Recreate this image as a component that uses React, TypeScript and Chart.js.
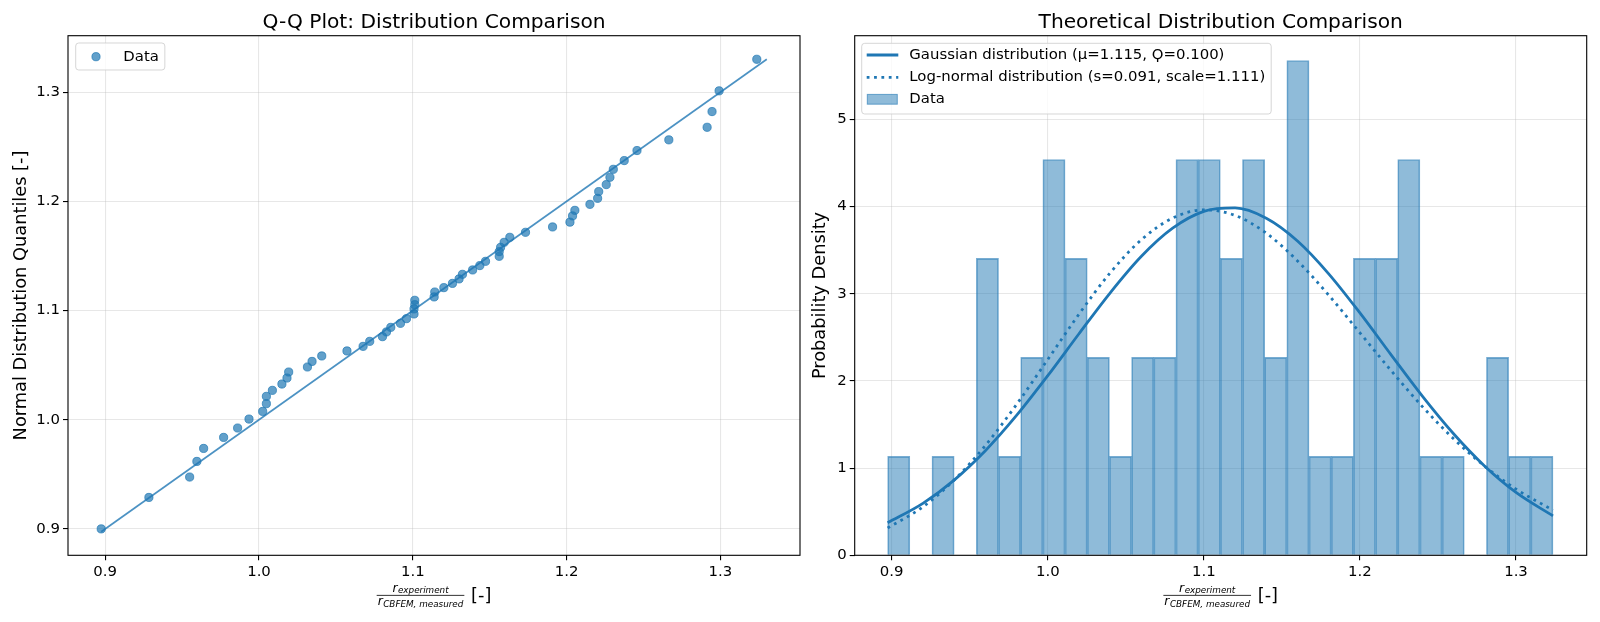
import { useEffect, useRef } from "react";
import { Chart, registerables } from "chart.js";

Chart.register(...registerables);

const FONT = "'DejaVu Sans', 'Liberation Sans', sans-serif";
const BLUE = "31, 119, 180";
const SMALL = 14.9;
const LARGE = 17.8;
const TITLE = 20.2;

// Q-Q plot: measured ratio (sorted) vs normal distribution quantiles
const qqSample = [
  0.8974, 0.9284, 0.9549, 0.9596, 0.964, 0.977, 0.9861, 0.9935, 1.0024, 1.0048,
  1.0048, 1.0087, 1.0149, 1.0182, 1.0193, 1.0315, 1.0345, 1.0408, 1.0572, 1.0677,
  1.072, 1.0803, 1.0829, 1.0857, 1.092, 1.0959, 1.1008, 1.1008, 1.1013, 1.1013,
  1.1139, 1.1143, 1.1202, 1.1258, 1.1301, 1.1323, 1.1389, 1.1436, 1.1473, 1.1562,
  1.1562, 1.1571, 1.1594, 1.1631, 1.1733, 1.1909, 1.2022, 1.2039, 1.2054, 1.2152,
  1.2202, 1.2209, 1.2258, 1.2282, 1.2304, 1.2375, 1.2458, 1.2665, 1.2914, 1.2946,
  1.2992, 1.3237,
];
const qqTheory = [
  0.9, 0.9288, 0.9475, 0.9618, 0.9737, 0.9838, 0.9924, 1.0006, 1.0076, 1.0147,
  1.0214, 1.0269, 1.0327, 1.0382, 1.0437, 1.0483, 1.0534, 1.0584, 1.063, 1.0672,
  1.0718, 1.0761, 1.0804, 1.0846, 1.0883, 1.0926, 1.0969, 1.1015, 1.1054, 1.1094,
  1.1125, 1.117, 1.121, 1.1249, 1.129, 1.1332, 1.1372, 1.1412, 1.1451, 1.1497,
  1.154, 1.1579, 1.1625, 1.1671, 1.1717, 1.1766, 1.181, 1.1867, 1.1918, 1.1973,
  1.2028, 1.209, 1.2154, 1.2221, 1.2294, 1.2374, 1.2466, 1.2564, 1.2679, 1.2823,
  1.3013, 1.3302,
];
const qqLine = [0.8974, 1.3302];
const qqRange = [0.8758, 1.3518];
const qqTicks = [0.9, 1.0, 1.1, 1.2, 1.3];

// histogram, 30 bins, density
const binStart = 0.8974;
const binWidth = 0.01421;
const binCounts = [
  1, 0, 1, 0, 3, 1, 2, 4, 3, 2, 1, 2, 2, 4, 4, 3, 4, 2, 5, 1, 1, 3, 3, 4, 1, 1, 0, 2, 1, 1,
];
const sampleSize = 62;

// fitted curves
const curveX = [
  0.8974, 0.92, 0.94, 0.96, 0.98, 1.0, 1.02, 1.04, 1.06, 1.08, 1.1,
  1.12, 1.14, 1.16, 1.18, 1.2, 1.22, 1.24, 1.26, 1.28, 1.3, 1.3237,
];
const gaussY = [
  0.374, 0.596, 0.863, 1.2, 1.604, 2.06, 2.541, 3.011, 3.43, 3.752, 3.945,
  3.984, 3.866, 3.605, 3.229, 2.78, 2.299, 1.826, 1.394, 1.022, 0.721, 0.452,
];
const lognormY = [
  0.313, 0.555, 0.863, 1.259, 1.73, 2.246, 2.766, 3.24, 3.62, 3.868, 3.962,
  3.899, 3.695, 3.377, 2.984, 2.552, 2.118, 1.706, 1.337, 1.021, 0.76, 0.517,
];
const histRange = [0.8763, 1.3453];
const densityMax = 5.96;
const densityTicks = [0, 1, 2, 3, 4, 5];

const CANVAS_W = 820;
const CANVAS_H = 622;
const PLOT_TOP = 35.7;
const PLOT_BOTTOM = 555.3;

function drawRatioLabel(ctx: CanvasRenderingContext2D, cx: number, barY: number) {
  const rFont = `italic 12.3px ${FONT}`;
  const subFont = `italic 8.8px ${FONT}`;
  const unitFont = `${LARGE}px ${FONT}`;
  ctx.font = rFont;
  const rW = ctx.measureText("r").width + 0.5;
  ctx.font = subFont;
  const numW = rW + ctx.measureText("experiment").width;
  const denW = rW + ctx.measureText("CBFEM, measured").width;
  const fracW = Math.max(numW, denW) + 2;
  ctx.font = unitFont;
  const unitW = ctx.measureText("[-]").width;
  const gap = 6.7;
  const x0 = cx - (fracW + gap + unitW) / 2;

  ctx.fillStyle = "#000";
  ctx.textAlign = "left";
  ctx.textBaseline = "alphabetic";
  ctx.fillRect(x0, barY - 0.4, fracW, 0.8);

  const nx = x0 + (fracW - numW) / 2;
  ctx.font = rFont;
  ctx.fillText("r", nx, barY - 3.5);
  ctx.font = subFont;
  ctx.fillText("experiment", nx + rW, barY - 2.5);

  const dx = x0 + (fracW - denW) / 2;
  ctx.font = rFont;
  ctx.fillText("r", dx, barY + 9.9);
  ctx.font = subFont;
  ctx.fillText("CBFEM, measured", dx + rW, barY + 11.3);

  ctx.font = unitFont;
  ctx.fillText("[-]", x0 + fracW + gap, barY + 5.2);
}

function legendFrame(ctx: CanvasRenderingContext2D, x: number, y: number, w: number, h: number) {
  ctx.save();
  ctx.beginPath();
  ctx.roundRect(x, y, w, h, 3);
  ctx.fillStyle = "rgba(255,255,255,0.8)";
  ctx.fill();
  ctx.strokeStyle = "rgba(204,204,204,0.8)";
  ctx.lineWidth = 1;
  ctx.stroke();
  ctx.restore();
}

type Area = { left: number; right: number; top: number; bottom: number };

function makeDecor(
  title: string,
  yLabel: string,
  yLabelX: number,
  legend: (ctx: CanvasRenderingContext2D, a: Area) => void
) {
  return {
    id: "decor",
    afterDraw(chart: Chart) {
      const ctx = chart.ctx;
      const a = chart.chartArea;
      ctx.save();
      ctx.strokeStyle = "#000";
      ctx.lineWidth = 1.1;
      ctx.strokeRect(a.left, a.top, a.right - a.left, a.bottom - a.top);

      ctx.fillStyle = "#000";
      ctx.font = `${TITLE}px ${FONT}`;
      ctx.textAlign = "center";
      ctx.textBaseline = "alphabetic";
      ctx.fillText(title, (a.left + a.right) / 2, a.top - 7.4);

      ctx.font = `${LARGE}px ${FONT}`;
      ctx.save();
      ctx.translate(yLabelX, (a.top + a.bottom) / 2);
      ctx.rotate(-Math.PI / 2);
      ctx.textBaseline = "middle";
      ctx.fillText(yLabel, 0, 0);
      ctx.restore();

      drawRatioLabel(ctx, (a.left + a.right) / 2, 595.3);
      legend(ctx, a);
      ctx.restore();
    },
  };
}

function axisCommon(ticks: number[], digits: number) {
  return {
    type: "linear" as const,
    afterBuildTicks: (s: any) => {
      s.ticks = ticks.map((v) => ({ value: v }));
    },
    grid: {
      color: "rgba(176,176,176,0.3)",
      lineWidth: 1.1,
      tickColor: "#000",
      tickLength: 5,
      tickWidth: 1.1,
    },
    border: { display: false },
    ticks: {
      color: "#000",
      font: { family: FONT, size: SMALL },
      padding: 3,
      maxRotation: 0,
      autoSkip: false,
      callback: (v: any) => Number(v).toFixed(digits),
    },
  };
}

function QQChart() {
  const ref = useRef<HTMLCanvasElement>(null);
  useEffect(() => {
    if (!ref.current) return;
    const legend = (ctx: CanvasRenderingContext2D, a: Area) => {
      ctx.font = `${SMALL}px ${FONT}`;
      const tw = ctx.measureText("Data").width;
      const x = a.left + 7.7;
      const y = a.top + 7.3;
      legendFrame(ctx, x, y, 47.6 + tw + 6, 27);
      ctx.beginPath();
      ctx.arc(x + 20.3, y + 13.7, 4.1, 0, Math.PI * 2);
      ctx.fillStyle = `rgba(${BLUE},0.7)`;
      ctx.fill();
      ctx.strokeStyle = `rgba(${BLUE},0.7)`;
      ctx.lineWidth = 1;
      ctx.stroke();
      ctx.fillStyle = "#000";
      ctx.textAlign = "left";
      ctx.textBaseline = "middle";
      ctx.fillText("Data", x + 47.6, y + 13.7);
    };
    const chart = new Chart(ref.current, {
      type: "scatter",
      data: {
        datasets: [
          {
            label: "Data",
            data: qqSample.map((x, i) => ({ x, y: qqTheory[i] })),
            backgroundColor: `rgba(${BLUE},0.7)`,
            borderColor: `rgba(${BLUE},0.7)`,
            borderWidth: 1,
            pointRadius: 4.1,
            order: 2,
          },
          {
            label: "line",
            data: qqLine.map((v) => ({ x: v, y: v })),
            showLine: true,
            borderColor: `rgba(${BLUE},0.8)`,
            borderWidth: 1.7,
            pointRadius: 0,
            order: 1,
          },
        ],
      },
      options: {
        responsive: false,
        animation: false,
        layout: { padding: { top: PLOT_TOP, right: 20, left: 0, bottom: 0 } },
        plugins: { legend: { display: false }, tooltip: { enabled: false } },
        scales: {
          x: {
            ...axisCommon(qqTicks, 1),
            min: qqRange[0],
            max: qqRange[1],
            afterFit: (s: any) => {
              s.height = CANVAS_H - PLOT_BOTTOM;
            },
          },
          y: {
            ...axisCommon(qqTicks, 1),
            min: qqRange[0],
            max: qqRange[1],
            afterFit: (s: any) => {
              s.width = 68;
            },
          },
        },
      },
      plugins: [makeDecor("Q-Q Plot: Distribution Comparison", "Normal Distribution Quantiles [-]", 21, legend)],
    });
    return () => chart.destroy();
  }, []);
  return (
    <canvas
      ref={ref}
      width={CANVAS_W}
      height={CANVAS_H}
      style={{ position: "absolute", left: 0, top: 0, width: CANVAS_W, height: CANVAS_H }}
    />
  );
}

function HistChart() {
  const ref = useRef<HTMLCanvasElement>(null);
  const offset = 780;
  useEffect(() => {
    if (!ref.current) return;
    const labels = [
      "Gaussian distribution (\u03bc=1.115, \u03d8=0.100)",
      "Log-normal distribution (s=0.091, scale=1.111)",
      "Data",
    ];
    const legend = (ctx: CanvasRenderingContext2D, a: Area) => {
      ctx.font = `${SMALL}px ${FONT}`;
      const tw = Math.max(...labels.map((l) => ctx.measureText(l).width));
      const x = a.left + 7;
      const y = a.top + 7.6;
      legendFrame(ctx, x, y, 47.6 + tw + 6, 70.7);
      const rows = [y + 11.7, y + 34, y + 56];
      ctx.strokeStyle = `rgb(${BLUE})`;
      ctx.lineWidth = 2.78;
      ctx.lineCap = "butt";
      ctx.beginPath();
      ctx.moveTo(x + 5, rows[0]);
      ctx.lineTo(x + 36.6, rows[0]);
      ctx.stroke();
      ctx.setLineDash([2.78, 4.58]);
      ctx.beginPath();
      ctx.moveTo(x + 5, rows[1]);
      ctx.lineTo(x + 36.6, rows[1]);
      ctx.stroke();
      ctx.setLineDash([]);
      ctx.fillStyle = `rgba(${BLUE},0.5)`;
      ctx.fillRect(x + 5.6, rows[2] - 4.9, 30, 9.8);
      ctx.strokeStyle = `rgba(${BLUE},0.6)`;
      ctx.lineWidth = 1;
      ctx.strokeRect(x + 5.6, rows[2] - 4.9, 30, 9.8);
      ctx.fillStyle = "#000";
      ctx.textAlign = "left";
      ctx.textBaseline = "middle";
      labels.forEach((l, i) => ctx.fillText(l, x + 47.6, rows[i]));
    };
    const chart = new Chart(ref.current, {
      type: "bar",
      data: {
        datasets: [
          {
            type: "bar",
            label: "Data",
            data: binCounts.map((c, i) => ({
              x: binStart + (i + 0.5) * binWidth,
              y: c / (sampleSize * binWidth),
            })),
            backgroundColor: `rgba(${BLUE},0.5)`,
            borderColor: `rgba(${BLUE},0.6)`,
            borderWidth: 1,
            barPercentage: 1,
            categoryPercentage: 1,
            order: 3,
          },
          {
            type: "line",
            label: "Gaussian",
            data: curveX.map((x, i) => ({ x, y: gaussY[i] })),
            borderColor: `rgb(${BLUE})`,
            borderWidth: 2.78,
            pointRadius: 0,
            cubicInterpolationMode: "monotone",
            order: 2,
          },
          {
            type: "line",
            label: "Log-normal",
            data: curveX.map((x, i) => ({ x, y: lognormY[i] })),
            borderColor: `rgb(${BLUE})`,
            borderWidth: 2.78,
            borderDash: [2.78, 4.58],
            borderCapStyle: "butt",
            pointRadius: 0,
            cubicInterpolationMode: "monotone",
            order: 1,
          },
        ],
      },
      options: {
        responsive: false,
        animation: false,
        layout: { padding: { top: PLOT_TOP, right: 13.3, left: 0, bottom: 0 } },
        plugins: { legend: { display: false }, tooltip: { enabled: false } },
        scales: {
          x: {
            ...axisCommon(qqTicks, 1),
            offset: false,
            grid: { ...axisCommon(qqTicks, 1).grid, offset: false },
            min: histRange[0],
            max: histRange[1],
            afterFit: (s: any) => {
              s.height = CANVAS_H - PLOT_BOTTOM;
            },
          },
          y: {
            ...axisCommon(densityTicks, 0),
            min: 0,
            max: densityMax,
            afterFit: (s: any) => {
              s.width = 854.7 - offset;
            },
          },
        },
      },
      plugins: [makeDecor("Theoretical Distribution Comparison", "Probability Density", 820 - offset, legend)],
    });
    return () => chart.destroy();
  }, []);
  return (
    <canvas
      ref={ref}
      width={CANVAS_W}
      height={CANVAS_H}
      style={{ position: "absolute", left: offset, top: 0, width: CANVAS_W, height: CANVAS_H }}
    />
  );
}

export default function App() {
  return (
    <div
      style={{
        position: "absolute",
        left: 0,
        top: 0,
        width: 1600,
        height: 622,
        background: "#fff",
        overflow: "hidden",
      }}
    >
      <QQChart />
      <HistChart />
    </div>
  );
}
